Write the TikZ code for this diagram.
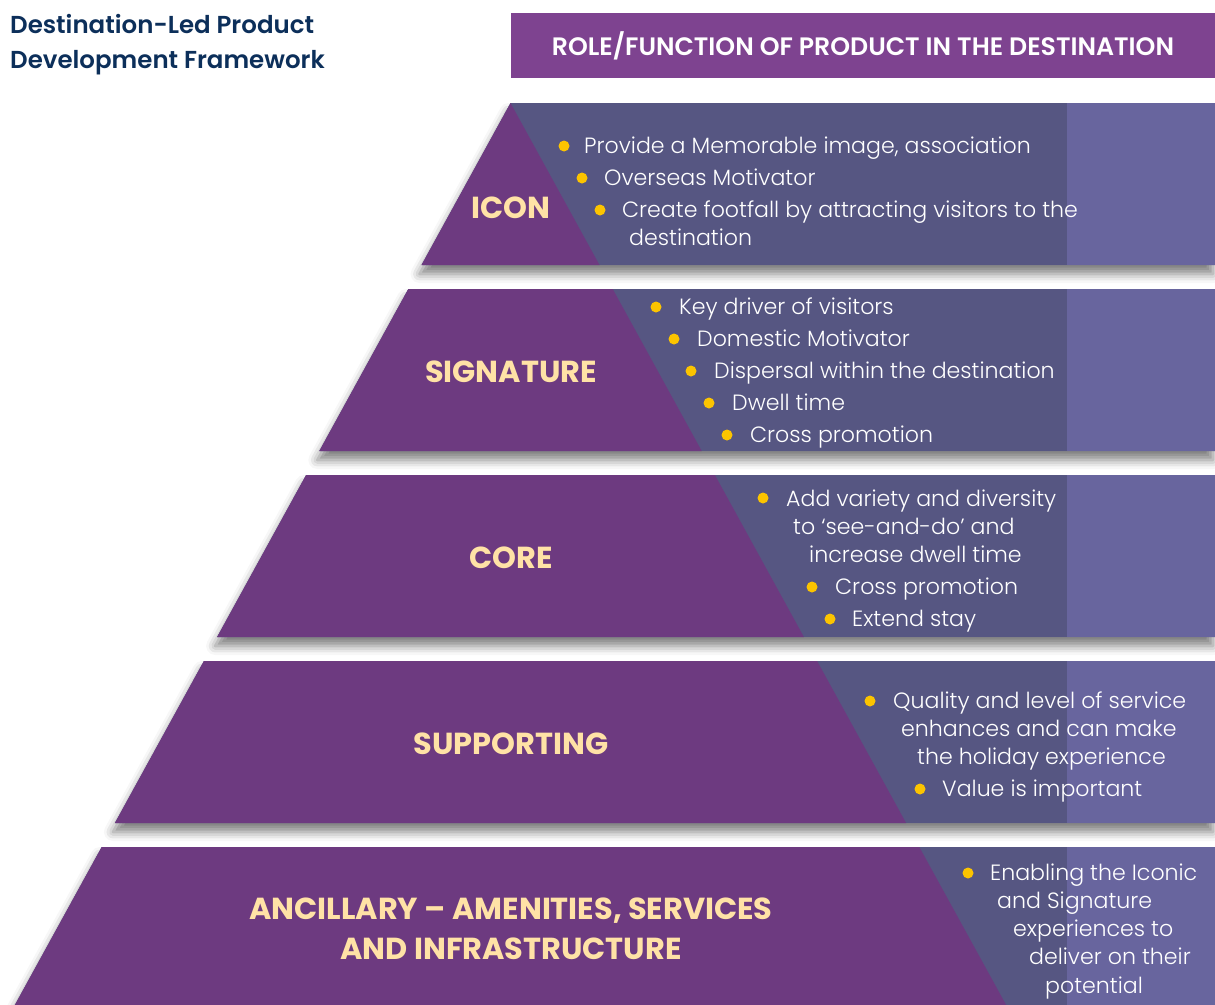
\documentclass[tikz,border=0pt]{standalone}
\usepackage{fontspec}
\setmainfont{Poppins}[UprightFont={* Light}, BoldFont={* SemiBold}]
\newfontfamily\pbold{Poppins}[UprightFont={* SemiBold}]
\newfontfamily\pbolder{Poppins}[UprightFont={* Bold}]
\usetikzlibrary{shadows.blur}
\definecolor{pyr}{RGB}{109,58,128}
\definecolor{hdrc}{RGB}{126,67,144}
\definecolor{slate}{RGB}{86,86,130}
\definecolor{slatelt}{RGB}{104,101,158}
\definecolor{bul}{RGB}{252,196,0}
\definecolor{cream}{RGB}{255,226,166}
\definecolor{navy}{RGB}{12,47,90}
\begin{document}
\begin{tikzpicture}[x=1pt,y=-1pt,
  band/.style={fill=slate, blur shadow={shadow xshift=-2pt, shadow yshift=-9pt, shadow blur radius=9pt, shadow opacity=50}},
  purp/.style={fill=pyr},
  strip/.style={fill=slatelt},
  lbl/.style={text=cream, font=\pbolder\fontsize{30.4}{34}\selectfont, anchor=base, inner sep=0pt},
  txt/.style={text=white, font=\fontsize{22.1}{26}\selectfont, anchor=base west, inner sep=0pt},
  dot/.style={circle, fill=bul, minimum size=11pt, inner sep=0pt},
  ttl/.style={text=navy, font=\pbold\fontsize{24.5}{30}\selectfont, anchor=base west, inner sep=0pt}]
\useasboundingbox (0,0) rectangle (1215,1004);
\clip (0,0) rectangle (1215,1004);

% title
\node[ttl] (t1) at (10,33) {Destination-Led Product};
\node[ttl] (t2) at (10,68) {Development Framework};

% header
\node[fill=hdrc, minimum width=704pt, minimum height=65pt, inner sep=0pt,
      text=white, font=\pbold\fontsize{25.2}{30}\selectfont] (hdr) at (863,45.5)
      {ROLE/FUNCTION OF PRODUCT IN THE DESTINATION};

% band 1
\path[band] (510.5,103) -- (1215,103) -- (1215,265) -- (421.5,265) -- cycle;
\fill[strip] (1067,103) rectangle (1215,265);
\fill[purp] (510.5,103) -- (599.5,265) -- (421.5,265) -- cycle;
% band 2
\path[band] (408.3,289) -- (1215,289) -- (1215,451) -- (319.3,451) -- cycle;
\fill[strip] (1067,289) rectangle (1215,451);
\fill[purp] (408.3,289) -- (612.7,289) -- (701.7,451) -- (319.3,451) -- cycle;
% band 3
\path[band] (306.1,475) -- (1215,475) -- (1215,637) -- (217.1,637) -- cycle;
\fill[strip] (1067,475) rectangle (1215,637);
\fill[purp] (306.1,475) -- (714.9,475) -- (803.9,637) -- (217.1,637) -- cycle;
% band 4
\path[band] (203.9,661) -- (1215,661) -- (1215,823) -- (114.9,823) -- cycle;
\fill[strip] (1067,661) rectangle (1215,823);
\fill[purp] (203.9,661) -- (817.1,661) -- (906.1,823) -- (114.9,823) -- cycle;
% band 5
\path[band] (101.7,847) -- (1215,847) -- (1215,1010) -- (12.1,1010) -- cycle;
\fill[strip] (1067,847) rectangle (1215,1010);
\fill[purp] (101.7,847) -- (919.3,847) -- (1008.9,1010) -- (12.1,1010) -- cycle;

% labels
\node[lbl] (l1) at (511,218) {ICON};
\node[lbl] (l2) at (511,382) {SIGNATURE};
\node[lbl] (l3) at (511,568) {CORE};
\node[lbl] (l4) at (511,754) {SUPPORTING};
\node[lbl] (l5a) at (511,919) {ANCILLARY – AMENITIES, SERVICES};
\node[lbl] (l5b) at (511,959) {AND INFRASTRUCTURE};

% band 1 texts
\node[dot] (d11) at (564,146) {};
\node[txt] (a11) at (584,153) {Provide a Memorable image, association};
\node[dot] (d12) at (582,178) {};
\node[txt] (a12) at (604,185) {Overseas Motivator};
\node[dot] (d13) at (600,210) {};
\node[txt] (a13) at (622,217) {Create footfall by attracting visitors to the};
\node[txt] (a14) at (629,245) {destination};
% band 2 texts
\node[dot] (d21) at (656,307) {};
\node[txt] (a21) at (679,314) {Key driver of visitors};
\node[dot] (d22) at (674,339) {};
\node[txt] (a22) at (697,346) {Domestic Motivator};
\node[dot] (d23) at (691,371) {};
\node[txt] (a23) at (714,378) {Dispersal within the destination};
\node[dot] (d24) at (709,403) {};
\node[txt] (a24) at (732,410) {Dwell time};
\node[dot] (d25) at (727,435) {};
\node[txt] (a25) at (750,442) {Cross promotion};
% band 3 texts
\node[dot] (d31) at (763,498) {};
\node[txt] (a31) at (786,506) {Add variety and diversity};
\node[txt] (a32) at (793,534) {to ‘see-and-do’ and};
\node[txt] (a33) at (809,562) {increase dwell time};
\node[dot] (d34) at (812,587) {};
\node[txt] (a34) at (835,594) {Cross promotion};
\node[dot] (d35) at (830,619) {};
\node[txt] (a35) at (852,626) {Extend stay};
% band 4 texts
\node[dot] (d41) at (870,701) {};
\node[txt] (a41) at (893,708) {Quality and level of service};
\node[txt] (a42) at (901,736) {enhances and can make};
\node[txt] (a43) at (917,764) {the holiday experience};
\node[dot] (d44) at (920,789) {};
\node[txt] (a44) at (942,796) {Value is important};
% band 5 texts
\node[dot] (d51) at (968,873) {};
\node[txt] (a51) at (990,880) {Enabling the Iconic};
\node[txt] (a52) at (997,908) {and Signature};
\node[txt] (a53) at (1013,936) {experiences to};
\node[txt] (a54) at (1029,964) {deliver on their};
\node[txt] (a55) at (1045,993) {potential};
\end{tikzpicture}
\end{document}
